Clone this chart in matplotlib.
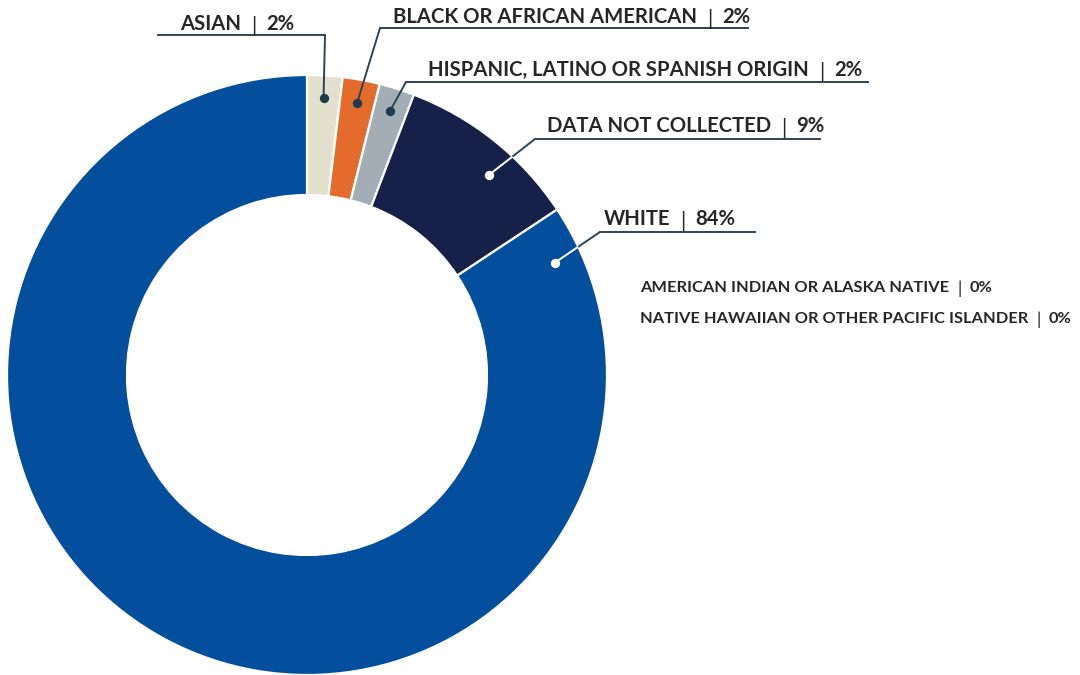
import numpy as np
import matplotlib.pyplot as plt
from matplotlib.patches import Wedge

# data
categories = ['ASIAN', 'BLACK OR AFRICAN AMERICAN', 'HISPANIC, LATINO OR SPANISH ORIGIN',
              'DATA NOT COLLECTED', 'WHITE']
values = [1.9, 2.0, 1.9, 9.9, 84.3]
pct_labels = ['2%', '2%', '2%', '9%', '84%']
zero_categories = ['AMERICAN INDIAN OR ALASKA NATIVE', 'NATIVE HAWAIIAN OR OTHER PACIFIC ISLANDER']
zero_labels = ['0%', '0%']

colors = ['#e4e0cf', '#e56b2c', '#a2adb5', '#162049', '#034f9e']
dot_colors = ['#1d3a4f', '#1d3a4f', '#1d3a4f', 'white', 'white']
line_color = '#2d4356'
text_color = '#262626'

W, H = 1080, 675
fig = plt.figure(figsize=(W / 100, H / 100), dpi=100)
ax = fig.add_axes([0, 0, 1, 1])

cx, cy, R = 307, H - 375, 300
wedges, _ = ax.pie(values, colors=colors, startangle=90, counterclock=False,
                   radius=R, center=(cx, cy),
                   wedgeprops=dict(width=0.4 * R, edgecolor='white', linewidth=1.6))
ax.set_xlim(0, W)
ax.set_ylim(0, H)
ax.set_aspect('equal')
ax.axis('off')

# label layout (pixel coords from top-left): text left x, baseline y, underline x0, x1, y
layout = [
    (180, 30, 158, 325, 35),
    (393, 23, 380, 748, 28),
    (428, 76, 406, 868, 82),
    (547, 132, 535, 820, 139),
    (604, 225, 600, 755, 232),
]
dot_frac = [0.5, 0.5, 0.5, 0.6, 0.03]
dot_r = [277, 277, 277, 270, 272]
elbow_right = [True, False, False, False, False]

fp = dict(family=['Lato', 'DejaVu Sans'], color=text_color)
fig.canvas.draw()
renderer = fig.canvas.get_renderer()

def put_label(x, ybase, name, pct, size, weight, gap):
    t = ax.text(x, H - ybase, name, fontsize=size, fontweight=weight, va='baseline', ha='left', **fp)
    bb = t.get_window_extent(renderer)
    s = ax.text(bb.x1 + gap, H - ybase - 0.15 * size, '|', fontsize=size * 1.05, fontweight='normal',
                va='baseline', ha='left', **fp)
    bb = s.get_window_extent(renderer)
    ax.text(bb.x1 + gap, H - ybase, pct, fontsize=size, fontweight=weight, va='baseline', ha='left', **fp)

for i, w in enumerate(wedges):
    t1, t2 = w.theta1, w.theta2
    ang = np.deg2rad(t2 - dot_frac[i] * (t2 - t1))
    dx, dy = cx + dot_r[i] * np.cos(ang), cy + dot_r[i] * np.sin(ang)
    tx, tb, ux0, ux1, uy = layout[i]
    ex = ux1 if elbow_right[i] else ux0
    ax.plot([dx, ex], [dy, H - uy], color=line_color, lw=1.4, solid_capstyle='butt', zorder=3)
    if dot_colors[i] == 'white':
        # part of the leader inside the ring is drawn white
        inner, = ax.plot([dx, ex], [dy, H - uy], color='white', lw=1.4, solid_capstyle='butt', zorder=3.5)
        clip = Wedge((cx, cy), R, t1, t2, width=0.4 * R, transform=ax.transData)
        inner.set_clip_path(clip)
    ax.plot([ux0, ux1], [H - uy, H - uy], color=line_color, lw=1.4, zorder=3)
    ax.scatter([dx], [dy], s=45, color=dot_colors[i], zorder=4, linewidths=0)
    put_label(tx, tb, categories[i], pct_labels[i], 14.6, 'bold', 10)

zero_base = [292, 323]
for name, pct, yb in zip(zero_categories, zero_labels, zero_base):
    put_label(640, yb, name, pct, 11.8, 'bold', 8)

fig.savefig('out.png', dpi=100)
